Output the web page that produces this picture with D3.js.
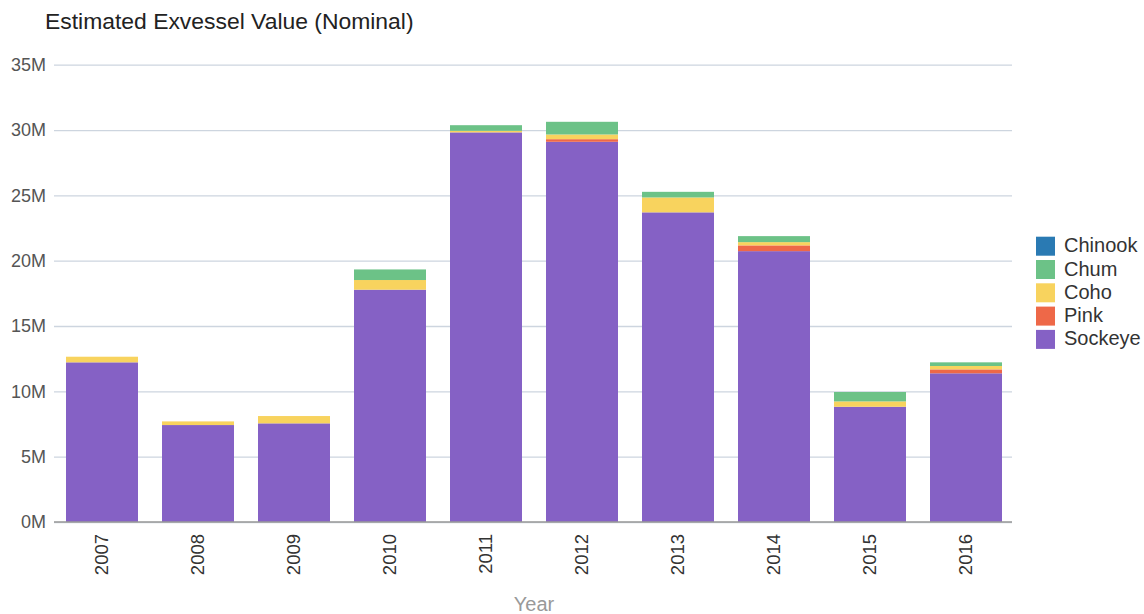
<!doctype html>
<meta charset="utf-8">
<head>
<script src="https://d3js.org/d3.v7.min.js"></script>
<style>
  body { margin: 0; background: #fff; }
  text { font-family: "Liberation Sans", Arial, sans-serif; }
</style>
</head>
<body>
<svg width="1144" height="614"></svg>
<script>
    // values in millions of dollars
    let years = ["2007", "2008", "2009", "2010", "2011", "2012", "2013", "2014", "2015", "2016"];
    let species = ["Chinook", "Chum", "Coho", "Pink", "Sockeye"];
    let colors = ["#2a7ab3", "#6cc287", "#f8d35e", "#ee6848", "#8561c5"];

    let sockeye = [12.22, 7.42, 7.55, 17.78, 29.82, 29.10, 23.70, 20.73, 8.82, 11.38];
    let pink    = [0, 0, 0, 0, 0, 0.20, 0, 0.44, 0, 0.30];
    let coho    = [0.43, 0.28, 0.56, 0.74, 0.12, 0.36, 1.14, 0.25, 0.41, 0.26];
    let chum    = [0, 0, 0, 0.81, 0.43, 0.97, 0.43, 0.46, 0.72, 0.28];
    let chinook = [0, 0, 0, 0, 0, 0, 0, 0, 0, 0];

    let yTicks = [0, 5, 10, 15, 20, 25, 30, 35];

    // stack order bottom -> top
    let stackOrder = ["Sockeye", "Pink", "Coho", "Chum", "Chinook"];
    let seriesData = { Sockeye: sockeye, Pink: pink, Coho: coho, Chum: chum, Chinook: chinook };

    let rows = years.map((y, i) => {
        let r = { year: y };
        stackOrder.forEach(s => r[s] = seriesData[s][i]);
        return r;
    });

    let color = d3.scaleOrdinal().domain(species).range(colors);

    let svg = d3.select("svg");
    let plotLeft = 54, plotRight = 1014, plotTop = 64.7, plotBottom = 522;

    let x = d3.scaleBand()
        .domain(years)
        .range([plotLeft, plotRight])
        .paddingInner(0.25)
        .paddingOuter(0.125);

    let y = d3.scaleLinear()
        .domain([0, 35])
        .range([plotBottom, plotTop]);

    // title
    svg.append("text")
        .attr("x", 45)
        .attr("y", 29)
        .attr("font-size", 22.9)
        .attr("fill", "#222")
        .text("Estimated Exvessel Value (Nominal)");

    // grid + y labels
    let yAxis = svg.append("g")
        .attr("transform", `translate(${plotLeft},0)`)
        .call(d3.axisLeft(y).tickValues(yTicks).tickSize(-(plotRight - plotLeft - 2)).tickFormat(d => d + "M"));
    yAxis.select(".domain").remove();
    yAxis.selectAll(".tick line").attr("stroke", "#cdd5df").attr("stroke-width", 1.3);
    yAxis.selectAll(".tick text")
        .attr("x", -8)
        .attr("font-size", 18)
        .attr("fill", "#555")
        .style("font-family", "'Liberation Sans', Arial, sans-serif");

    // stacked bars
    let stack = d3.stack().keys(stackOrder);
    let layers = stack(rows);

    svg.append("g").selectAll("g")
        .data(layers)
        .enter().append("g")
        .attr("fill", d => color(d.key))
        .selectAll("rect")
        .data(d => d)
        .enter().append("rect")
        .attr("x", d => x(d.data.year))
        .attr("width", x.bandwidth())
        .attr("y", d => y(d[1]))
        .attr("height", d => Math.max(0, y(d[0]) - y(d[1])));

    // x axis
    let xAxis = svg.append("g")
        .attr("transform", `translate(0,${plotBottom})`)
        .call(d3.axisBottom(x).tickSize(0));
    xAxis.select(".domain").attr("stroke", "#999").attr("stroke-width", 1.3)
        .attr("d", `M${plotLeft},0H${plotRight - 2}`);
    xAxis.selectAll(".tick text")
        .attr("transform", "rotate(-90)")
        .attr("text-anchor", "end")
        .attr("x", -12)
        .attr("y", 0)
        .attr("dy", "0.35em")
        .attr("font-size", 18.5)
        .attr("fill", "#333")
        .style("font-family", "'Liberation Sans', Arial, sans-serif");

    svg.append("text")
        .attr("x", (plotLeft + plotRight) / 2)
        .attr("y", 611)
        .attr("text-anchor", "middle")
        .attr("font-size", 20)
        .attr("fill", "#999")
        .text("Year");

    // legend
    let legend = svg.append("g").attr("transform", "translate(1036,236.7)");
    let item = legend.selectAll("g")
        .data(species)
        .enter().append("g")
        .attr("transform", (d, i) => `translate(0,${i * 23.3})`);
    item.append("rect")
        .attr("width", 19)
        .attr("height", 19)
        .attr("fill", d => color(d));
    item.append("text")
        .attr("x", 28)
        .attr("y", 15.5)
        .attr("font-size", 20)
        .attr("fill", "#333")
        .text(d => d);
</script>
</body>
